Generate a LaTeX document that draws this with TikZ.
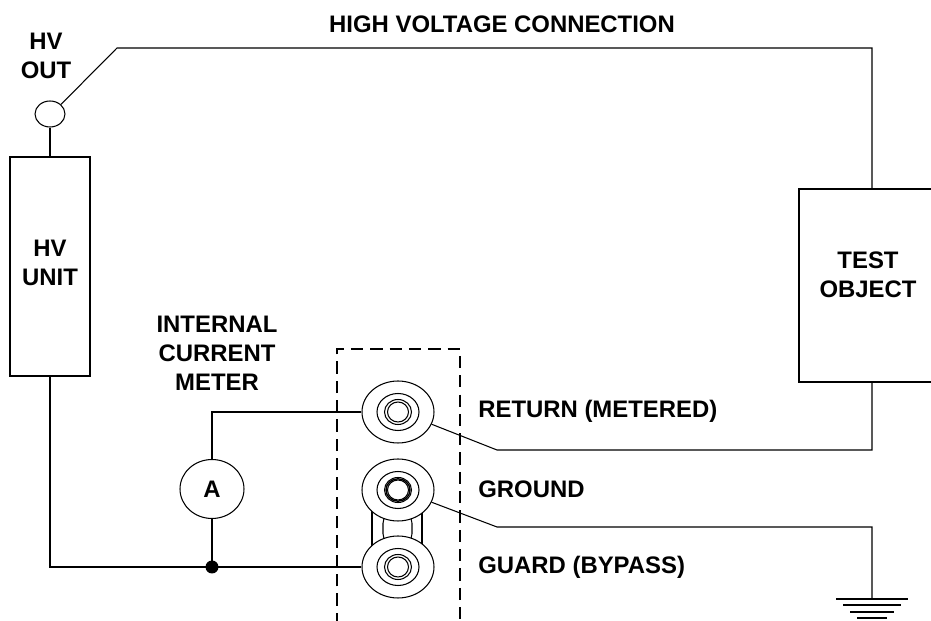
\documentclass[tikz,border=0pt]{standalone}
\usepackage{fontspec}
\setmainfont{Liberation Sans}
\usetikzlibrary{shapes.geometric, calc}

\tikzset{
  lbl/.style={font=\fontsize{13.6}{16.5}\selectfont\bfseries,align=center,inner sep=0pt},
  wire/.style={line width=0.6pt},
  box/.style={draw,line width=0.6pt,inner sep=0pt},
  jack/.style={draw,ellipse,fill=white,line width=0.6pt,minimum width=1.44cm,minimum height=1.24cm,inner sep=0pt},
}

\begin{document}
\begin{tikzpicture}[x=0.02cm,y=-0.02cm]
    \useasboundingbox (0,0) rectangle (931,621);

    % Labels
    \node[lbl] (hvclbl) at (502,24) {HIGH VOLTAGE CONNECTION};
    \node[lbl] (hvoutlbl) at (46,56) {HV\\OUT};
    \node[lbl] (meterlbl) at (217,353) {INTERNAL\\CURRENT\\METER};
    \node[lbl,anchor=west] (retlbl) at (478,411) {RETURN (METERED)};
    \node[lbl,anchor=west] (gndlbl) at (478,489) {GROUND};
    \node[lbl,anchor=west] (grdlbl) at (478,567) {GUARD (BYPASS)};

    % HV unit
    \node[box,minimum width=1.6cm,minimum height=4.38cm] (hvunit) at (50,266.5) {};
    \node[lbl] (hvunitlbl) at (50,263) {HV\\UNIT};
    \node[draw,ellipse,line width=0.6pt,minimum width=0.6cm,minimum height=0.52cm,inner sep=0pt] (hvout) at (50,114) {};

    % Test object
    \node[box,minimum width=2.92cm,minimum height=3.86cm] (testobj) at (872,285.5) {};
    \node[lbl] (testlbl) at (868,275) {TEST\\OBJECT};

    % Ammeter
    \node[draw,ellipse,line width=0.6pt,minimum width=1.28cm,minimum height=1.18cm,lbl] (amp) at (212,489) {A};

    % Terminal block
    \draw[wire,dash pattern=on 7pt off 4pt] (337,625) -- (337,349) -- (460,349) -- (460,625);
    \draw[wire,fill=white] (372,500) rectangle (422,555);
    \draw[wire,fill=white,rounded corners=7pt] (383,511) rectangle (412,546);
    \foreach \n/\y in {ret/412,gnd/490,grd/567} {
        \node[jack] (\n) at (398,\y) {};
        \draw[wire] (\n) ellipse [x radius=21,y radius=18.5];
        \draw[wire] (\n) ellipse [x radius=13.5,y radius=12.5];
        \draw[wire] (\n) ellipse [x radius=10.5,y radius=10];
    }
    \draw[line width=0.8pt] (gnd) ellipse [x radius=12,y radius=11.2];

    % Wires
    \coordinate (hvbend) at (117,48);
    \draw[wire] (hvout.north east) -- (hvbend) -| (testobj.north);
    \draw[wire] (hvout.south) -- (hvunit.north);
    \coordinate (jn) at (212,567);
    \draw[wire] (hvunit.south) |- (jn) -- (grd.west);
    \draw[wire] (amp.south) -- (jn);
    \draw[wire] (amp.north) |- (ret.west);
    \fill (jn) circle [radius=6.5];

    \coordinate (retbend) at (497,450);
    \draw[wire] (ret.-20) -- (retbend) -| (testobj.south);
    \coordinate (gndbend) at (497,527);
    \coordinate (earth) at (872,599);
    \draw[wire] (gnd.-20) -- (gndbend) -| (earth);

    % Earth symbol
    \foreach \w/\dy in {36/0,29/6,22/13,15/19} {
        \draw[wire] ($(earth)+(-\w,\dy)$) -- ($(earth)+(\w,\dy)$);
    }
\end{tikzpicture}
\end{document}
